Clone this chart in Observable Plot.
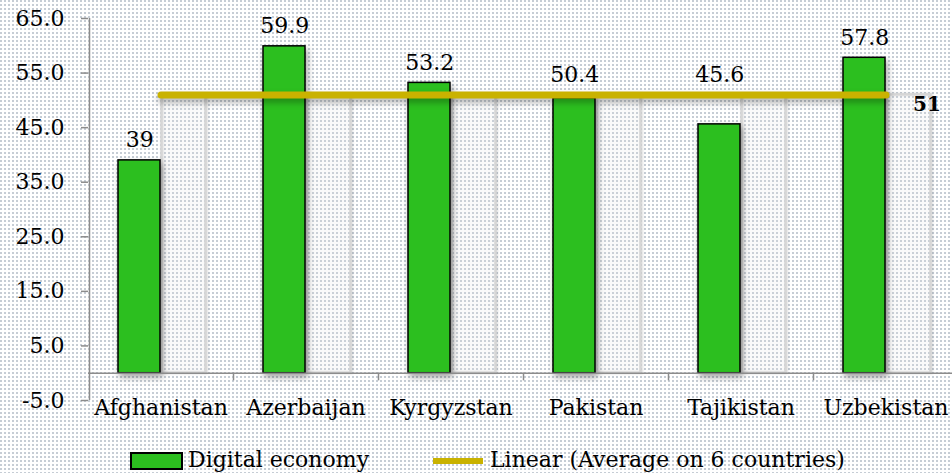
<!DOCTYPE html>
<html>
<head>
<meta charset="utf-8">
<script src="https://cdn.jsdelivr.net/npm/d3@7"></script>
<script src="https://cdn.jsdelivr.net/npm/@observablehq/plot@0.6"></script>
<style>
  html, body { margin: 0; padding: 0; }
  body {
    width: 952px; height: 473px; overflow: hidden;
    background-color: #ffffff;
    background-image: url("data:image/svg+xml,%3Csvg xmlns='http://www.w3.org/2000/svg' width='4' height='4'%3E%3Crect x='0' y='0' width='2' height='2' fill='%23c6cdd5'/%3E%3C/svg%3E");
    font-family: "DejaVu Serif", serif;
  }
  #chart svg { display: block; }
  g[aria-description="green"] rect { filter: drop-shadow(2px 4px 3px rgba(0,0,0,0.35)); }
  g[aria-description="ghost"] rect { filter: drop-shadow(1px 0px 1px rgba(0,0,0,0.15)); }
  g[aria-description="avg"] path { filter: drop-shadow(0px 4px 3px rgba(0,0,0,0.3)); }
  #legend { position: relative; height: 33px; font-size: 22px; color: #000; }
  #legend .sw-bar { position: absolute; left: 130px; top: 12px; width: 53px; height: 18px; box-sizing: border-box; border: 2px solid #000; background: #2cbf1f; }
  #legend .t1 { position: absolute; left: 188px; top: 7px; line-height: 26px; white-space: nowrap; }
  #legend .sw-line { position: absolute; left: 433px; top: 18px; width: 50px; height: 6px; background: #c9b200; }
  #legend .t2 { position: absolute; left: 490px; top: 7px; line-height: 26px; white-space: nowrap; }
</style>
</head>
<body>
<div id="chart"></div>
<div id="legend">
  <div class="sw-bar"></div><div class="t1">Digital economy</div>
  <div class="sw-line"></div><div class="t2">Linear (Average on 6 countries)</div>
</div>
<script>
const countries = ["Afghanistan", "Azerbaijan", "Kyrgyzstan", "Pakistan", "Tajikistan", "Uzbekistan"];
const digitalEconomy = [39, 59.9, 53.2, 50.4, 45.6, 57.8];
const averageSeries = [51, 51, 51, 51, 51, 51];
const averageLabel = "51";
const yTicks = [-5, 5, 15, 25, 35, 45, 55, 65];

const data = countries.map((c, i) => ({country: c, value: digitalEconomy[i], avg: averageSeries[i]}));
// labels of bars just under the average line are lifted above it (as in the original)
const labelY = d => (d.avg - d.value > 0 && d.avg - d.value < 8) ? d.avg : d.value;

const xRange = [88, 958];
const bw = (xRange[1] - xRange[0]) / countries.length;

const chart = Plot.plot({
  width: 952,
  height: 440,
  marginTop: 18,
  marginBottom: 40,
  marginLeft: 88,
  marginRight: 0,
  style: {background: "transparent", fontFamily: "DejaVu Serif", fontSize: "22px", color: "#000", overflow: "visible"},
  x: {domain: countries, range: xRange, padding: 0, axis: null},
  y: {domain: [-5, 65], axis: null},
  marks: [
    Plot.barY(data, {x: "country", y: "avg", insetLeft: bw / 2 + 1, insetRight: bw / 2 - 45, fill: "#ffffff", fillOpacity: 0.15, stroke: "#d6d6d6", strokeWidth: 2.5, ariaDescription: "ghost"}),
    Plot.barY(data, {x: "country", y: "value", insetLeft: 30, insetRight: bw / 2 + 0.5, fill: "#2cbf1f", stroke: "#000", strokeWidth: 1.5, ariaDescription: "green"}),
    Plot.ruleY([0], {stroke: "#8c8c8c", strokeWidth: 1.5}),
    Plot.ruleX(countries.slice(1), {x: d => d, y1: 0, y2: -1.4, dx: -bw / 2, stroke: "#8c8c8c", strokeWidth: 1.5}),
    Plot.ruleX([countries[0]], {x: d => d, y1: -5, y2: 65, dx: -bw / 2 + 1, stroke: "#8c8c8c", strokeWidth: 1.5}),
    Plot.axisY({ticks: yTicks, tickFormat: d => d.toFixed(1), tickSize: 7, tickPadding: 17, stroke: "#8c8c8c", strokeWidth: 1.5, fontSize: 22}),
    Plot.lineY(data, {x: "country", y: "avg", stroke: "#c9b200", strokeWidth: 7, ariaDescription: "avg"}),
    Plot.text(data, {x: "country", y: labelY, text: d => String(d.value), dx: -bw / 4 + 15, dy: -13, lineAnchor: "bottom", fontSize: 22}),
    Plot.text(data.slice(-1), {x: "country", y: "avg", text: () => averageLabel, dx: 41, dy: 10, fontWeight: "bold", fontSize: 20}),
    Plot.text(countries, {x: d => d, y: -5, dy: 7, fontSize: 22})
  ]
});
document.getElementById("chart").appendChild(chart);
</script>
</body>
</html>
